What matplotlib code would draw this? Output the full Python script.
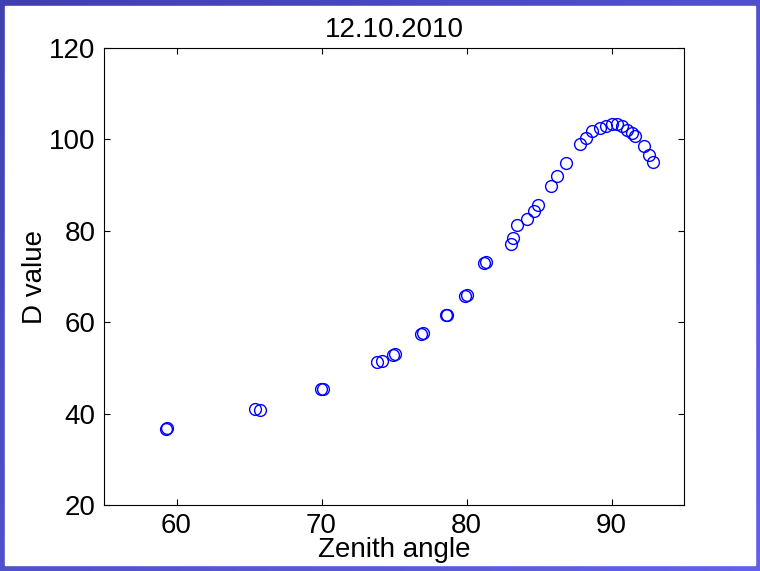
import numpy as np
import matplotlib
matplotlib.use('Agg')
from matplotlib import pyplot as plt
from matplotlib.patches import Rectangle

plt.rcParams['font.family'] = ['Liberation Sans', 'DejaVu Sans']

zenith = [59.25, 59.35, 65.41, 65.76, 69.95, 70.08, 73.83, 74.17, 74.93, 75.07,
          76.86, 77.02, 78.60, 78.66, 79.90, 80.06, 81.21, 81.34,
          83.05, 83.23, 83.50, 84.15, 84.66, 84.95, 85.81, 86.22, 86.84,
          87.83, 88.24, 88.63, 89.21, 89.62, 90.01, 90.36, 90.70, 91.05,
          91.39, 91.62, 92.24, 92.61, 92.88]
dval = [36.6, 36.8, 41.0, 40.8, 45.4, 45.4, 51.3, 51.5, 52.8, 53.0,
        57.4, 57.6, 61.6, 61.6, 65.7, 66.0, 72.9, 73.2,
        77.1, 78.4, 81.3, 82.5, 84.4, 85.6, 89.9, 92.0, 94.8,
        99.1, 100.4, 101.9, 102.4, 102.9, 103.4, 103.4, 102.9, 102.1,
        101.5, 100.7, 98.6, 96.6, 95.1]
xticks = [60, 70, 80, 90]
yticks = [20, 40, 60, 80, 100, 120]

fig = plt.figure(figsize=(7.6, 5.71), dpi=100)

# blue gradient frame
bg = fig.add_axes([0, 0, 1, 1], zorder=-10)
g = np.linspace(0, 1, 256)
grad = (g[None, :] + g[:, None]) / 2
c0 = np.array([64, 64, 176]) / 255.
c1 = np.array([98, 98, 234]) / 255.
img = c0 + (c1 - c0) * grad[..., None]
bg.imshow(img, aspect='auto', extent=[0, 1, 0, 1], origin='upper')
bg.add_patch(Rectangle((5/760., 6/571.), 1 - 10/760., 1 - 12/571., color='white'))
bg.set_xlim(0, 1)
bg.set_ylim(0, 1)
bg.axis('off')

ax = fig.add_axes([104/760., 66/571., 580/760., 457/571.])
ax.plot(zenith, dval, 'o', mfc='none', mec='blue', ms=8.5, mew=1.0)
ax.set_xlim(55, 95)
ax.set_ylim(20, 120)
ax.set_xticks(xticks)
ax.set_yticks(yticks)
ax.tick_params(direction='in', length=4.5, width=0.8, top=True, right=True,
               labelsize=20, pad=6)
for s in ax.spines.values():
    s.set_linewidth(0.8)
ax.set_title('12.10.2010', fontsize=20, pad=8)
ax.set_xlabel('Zenith angle', fontsize=20, labelpad=-2)
ax.set_ylabel('D value', fontsize=20, labelpad=1)

fig.savefig('out.png', dpi=100)
